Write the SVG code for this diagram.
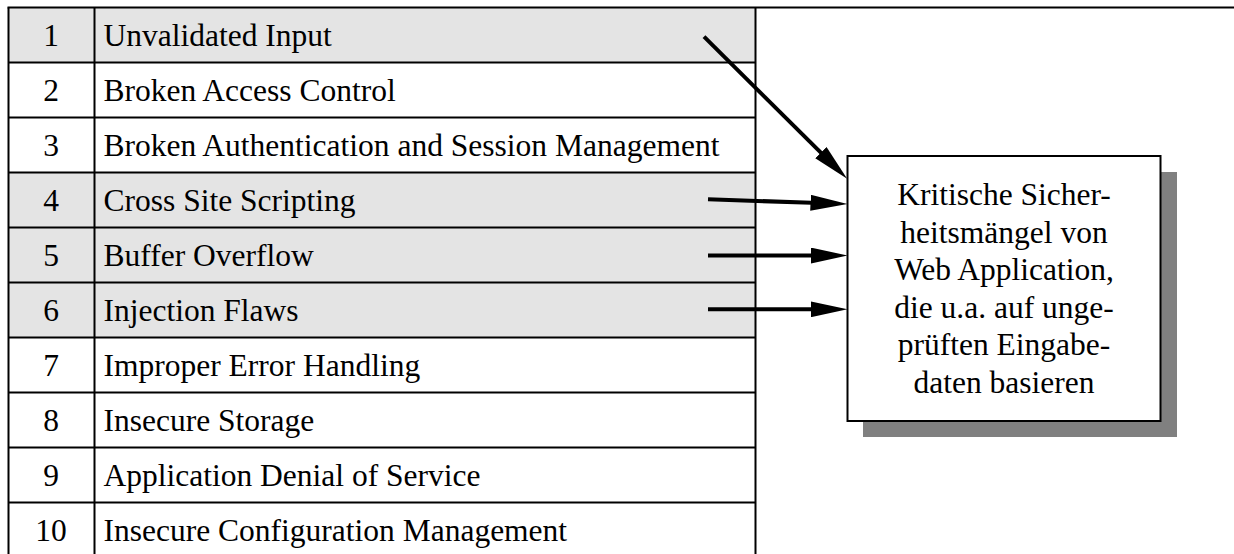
<svg xmlns="http://www.w3.org/2000/svg" width="1234" height="554" viewBox="0 0 1234 554">
  <style>
    .txt { font-family: "Liberation Serif", "Times New Roman", serif; font-size: 31.5px; fill: #000; }
    .num { text-anchor: middle; }
    .shade { fill: #e4e4e4; }
    .grid { stroke: #000; stroke-width: 2; fill: none; }
    .conn { stroke: #000; stroke-width: 4; fill: none; }
  </style>
  <defs>
    <!-- arrowhead: base sits on the line end, tip 37px further on -->
    <marker id="head" viewBox="0 0 37 16" refX="1" refY="8" markerWidth="37" markerHeight="16" markerUnits="userSpaceOnUse" orient="auto">
      <path d="M0,0 L37,8 L0,16 Z" fill="#000"/>
    </marker>
  </defs>

  <rect width="1234" height="554" fill="#fff"/>

  <!-- shaded rows: 1, 4, 5, 6 -->
  <g id="shading">
    <rect class="shade" x="8" y="7.5" width="748" height="55"/>
    <rect class="shade" x="8" y="172.5" width="748" height="165"/>
  </g>

  <!-- table rows -->
  <g id="row1"><text class="txt num" x="51" y="46">1</text><text class="txt" x="103.5" y="46">Unvalidated Input</text></g>
  <g id="row2"><text class="txt num" x="51" y="101">2</text><text class="txt" x="103.5" y="101">Broken Access Control</text></g>
  <g id="row3"><text class="txt num" x="51" y="156">3</text><text class="txt" x="103.5" y="156">Broken Authentication and Session Management</text></g>
  <g id="row4"><text class="txt num" x="51" y="211">4</text><text class="txt" x="103.5" y="211">Cross Site Scripting</text></g>
  <g id="row5"><text class="txt num" x="51" y="266">5</text><text class="txt" x="103.5" y="266">Buffer Overflow</text></g>
  <g id="row6"><text class="txt num" x="51" y="321">6</text><text class="txt" x="103.5" y="321">Injection Flaws</text></g>
  <g id="row7"><text class="txt num" x="51" y="376">7</text><text class="txt" x="103.5" y="376">Improper Error Handling</text></g>
  <g id="row8"><text class="txt num" x="51" y="431">8</text><text class="txt" x="103.5" y="431">Insecure Storage</text></g>
  <g id="row9"><text class="txt num" x="51" y="486">9</text><text class="txt" x="103.5" y="486">Application Denial of Service</text></g>
  <g id="row10"><text class="txt num" x="51" y="541">10</text><text class="txt" x="103.5" y="541">Insecure Configuration Management</text></g>

  <!-- table rules -->
  <g id="table-grid" class="grid">
    <line x1="7.5" y1="7.5" x2="1234" y2="7.5"/>
    <path d="M8,62.5H756 M8,117.5H756 M8,172.5H756 M8,227.5H756 M8,282.5H756 M8,337.5H756 M8,392.5H756 M8,447.5H756 M8,502.5H756"/>
    <path d="M8.5,7.5V554 M94.5,7.5V554 M755.5,7.5V554"/>
  </g>

  <!-- summary box with drop shadow -->
  <g id="summary">
    <rect x="863" y="172" width="314" height="265" fill="#808080"/>
    <rect x="847.5" y="156" width="313" height="265" fill="#fff" stroke="#000" stroke-width="2"/>
    <g class="txt num">
      <text x="1004" y="205">Kritische Sicher-</text>
      <text x="1004" y="242.5">heitsmängel von</text>
      <text x="1004" y="280">Web Application,</text>
      <text x="1004" y="317.5">die u.a. auf unge-</text>
      <text x="1004" y="355">prüften Eingabe-</text>
      <text x="1004" y="392.5">daten basieren</text>
    </g>
  </g>

  <!-- connectors -->
  <g id="connectors" class="conn">
    <line x1="704" y1="36.7" x2="821.6" y2="153.4" marker-end="url(#head)"/>
    <line x1="708" y1="199.3" x2="811.5" y2="202.8" marker-end="url(#head)"/>
    <line x1="708" y1="255.5" x2="811.5" y2="255.5" marker-end="url(#head)"/>
    <line x1="708" y1="309.3" x2="811.5" y2="309.3" marker-end="url(#head)"/>
  </g>
</svg>
